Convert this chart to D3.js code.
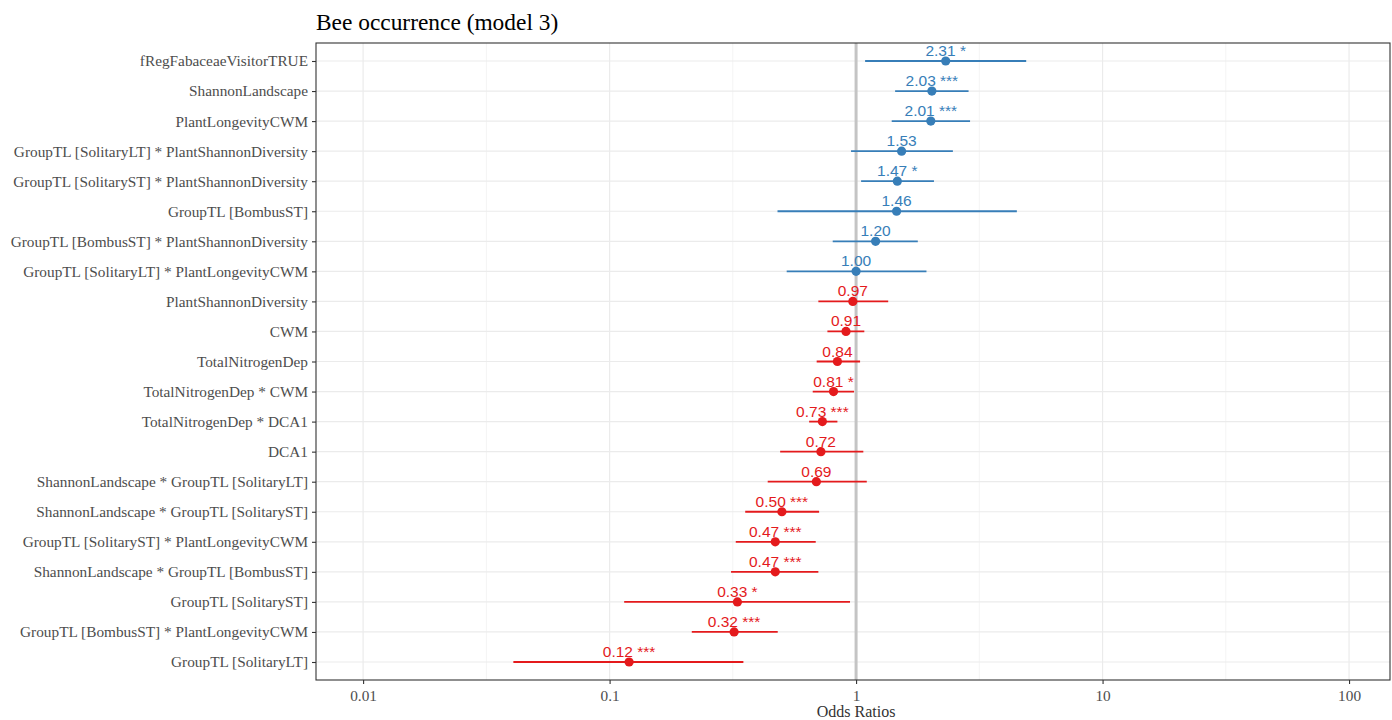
<!DOCTYPE html>
<html><head><meta charset="utf-8">
<script src="https://cdn.jsdelivr.net/npm/d3@7"></script>
<style>body{margin:0;background:#fff;}</style>
</head><body>
<svg id="chart" width="1392" height="720"></svg>
<script>
const terms = [
"fRegFabaceaeVisitorTRUE","ShannonLandscape","PlantLongevityCWM",
"GroupTL [SolitaryLT] * PlantShannonDiversity","GroupTL [SolitaryST] * PlantShannonDiversity",
"GroupTL [BombusST]","GroupTL [BombusST] * PlantShannonDiversity","GroupTL [SolitaryLT] * PlantLongevityCWM",
"PlantShannonDiversity","CWM","TotalNitrogenDep","TotalNitrogenDep * CWM","TotalNitrogenDep * DCA1","DCA1",
"ShannonLandscape * GroupTL [SolitaryLT]","ShannonLandscape * GroupTL [SolitaryST]",
"GroupTL [SolitaryST] * PlantLongevityCWM","ShannonLandscape * GroupTL [BombusST]",
"GroupTL [SolitaryST]","GroupTL [BombusST] * PlantLongevityCWM","GroupTL [SolitaryLT]"];
const estimates = [2.31,2.03,2.01,1.53,1.47,1.46,1.20,1.00,0.97,0.91,0.84,0.81,0.73,0.72,0.69,0.50,0.47,0.47,0.33,0.32,0.12];
const confLow  = [1.088,1.44,1.395,0.954,1.048,0.48,0.804,0.523,0.703,0.765,0.692,0.667,0.645,0.492,0.438,0.355,0.325,0.311,0.1146,0.2155,0.0407];
const confHigh = [4.90,2.86,2.90,2.47,2.07,4.49,1.78,1.93,1.35,1.08,1.038,0.981,0.84,1.07,1.105,0.708,0.686,0.703,0.945,0.481,0.349];
const stars = ["*","***","***","","*","","","","","","","*","***","","","***","***","***","*","***","***"];
const xTicks = [0.01,0.1,1,10,100];
const xTickLabels = ["0.01","0.1","1","10","100"];

const svg = d3.select("#chart");
const L=316, R=1390, T=43, B=680;
const x = d3.scaleLog().domain([0.00644,146.6]).range([L,R]);
const y = d3.scalePoint().domain(terms).range([61,662]);
const blue="#377EB8", red="#E41A1C";
const col = i => estimates[i] >= 1 ? blue : red;

// minor grid
const minor = [0.0316228,0.316228,3.16228,31.6228];
svg.append("g").selectAll("line").data(minor).join("line")
  .attr("x1",d=>x(d)).attr("x2",d=>x(d)).attr("y1",T).attr("y2",B)
  .attr("stroke","#f4f4f4").attr("stroke-width",1);
svg.append("g").selectAll("line").data(xTicks).join("line")
  .attr("x1",d=>x(d)).attr("x2",d=>x(d)).attr("y1",T).attr("y2",B)
  .attr("stroke","#ebebeb").attr("stroke-width",1.2);
svg.append("g").selectAll("line").data(terms).join("line")
  .attr("x1",L).attr("x2",R).attr("y1",d=>y(d)).attr("y2",d=>y(d))
  .attr("stroke","#ebebeb").attr("stroke-width",1.2);

// reference line at 1
svg.append("line").attr("x1",x(1)).attr("x2",x(1)).attr("y1",T).attr("y2",B)
  .attr("stroke","#c4c4c4").attr("stroke-width",3);

// error bars
const g = svg.append("g");
terms.forEach((t,i)=>{
  g.append("line").attr("x1",x(confLow[i])).attr("x2",x(confHigh[i]))
    .attr("y1",y(t)).attr("y2",y(t)).attr("stroke",col(i)).attr("stroke-width",1.8);
  g.append("circle").attr("cx",x(estimates[i])).attr("cy",y(t)).attr("r",4.6).attr("fill",col(i));
  g.append("text").attr("x",x(estimates[i])).attr("y",y(t)-5)
    .attr("text-anchor","middle").attr("font-family","Liberation Sans, Arial, sans-serif")
    .attr("font-size",15.5).attr("fill",col(i))
    .text(estimates[i].toFixed(2) + (stars[i] ? " " + stars[i] : ""));
});

// border
svg.append("rect").attr("x",L).attr("y",T).attr("width",R-L).attr("height",B-T)
  .attr("fill","none").attr("stroke","#333333").attr("stroke-width",1.1);

// y axis
const yAxis = svg.append("g").attr("transform",`translate(${L},0)`)
  .call(d3.axisLeft(y).tickSize(4).tickPadding(4));
yAxis.select(".domain").remove();
yAxis.selectAll("line").attr("stroke","#333333").attr("stroke-width",1.1);
yAxis.selectAll("text").attr("font-family","Liberation Serif, Times New Roman, serif")
  .attr("font-size",15.3).attr("fill","#4d4d4d");

// x axis
const xAxis = svg.append("g").attr("transform",`translate(0,${B})`)
  .call(d3.axisBottom(x).tickValues(xTicks).tickFormat((d,i)=>xTickLabels[i]).tickSize(4).tickPadding(6));
xAxis.select(".domain").remove();
xAxis.selectAll("line").attr("stroke","#333333").attr("stroke-width",1.1);
xAxis.selectAll("text").attr("font-family","Liberation Serif, Times New Roman, serif")
  .attr("font-size",15.3).attr("fill","#4d4d4d");

svg.append("text").attr("x",x(1)).attr("y",717).attr("text-anchor","middle")
  .attr("font-family","Liberation Serif, Times New Roman, serif").attr("font-size",16)
  .attr("fill","#333").text("Odds Ratios");

svg.append("text").attr("x",L).attr("y",30)
  .attr("font-family","Liberation Serif, Times New Roman, serif").attr("font-size",23.4)
  .attr("fill","#000").text("Bee occurrence (model 3)");
</script>
</body></html>
